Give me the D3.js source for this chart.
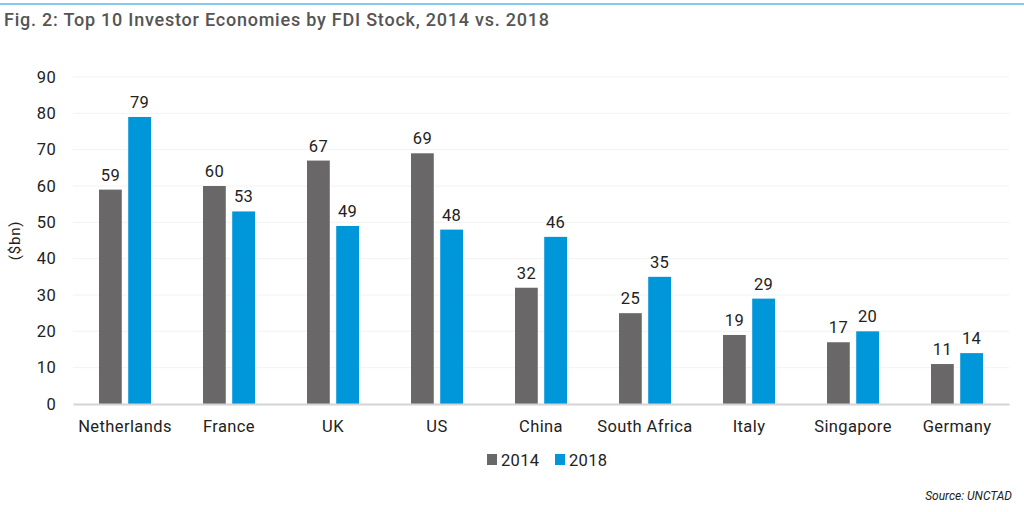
<!DOCTYPE html>
<html>
<head>
<meta charset="utf-8">
<script src="https://cdn.jsdelivr.net/npm/d3@7"></script>
<style>
  body { margin: 0; background: #fff; }
  text { font-family: Roboto, "Liberation Sans", sans-serif; }
</style>
</head>
<body>
<div id="chart"></div>
<script>
// data
var categories = ["Netherlands", "France", "UK", "US", "China", "South Africa", "Italy", "Singapore", "Germany"]
var values2014 = [59, 60, 67, 69, 32, 25, 19, 17, 11]
var values2018 = [79, 53, 49, 48, 46, 35, 29, 20, 14]
var seriesNames = ["2014", "2018"]
var yTicks = [0, 10, 20, 30, 40, 50, 60, 70, 80, 90]

var colors = { "2014": "#6a6768", "2018": "#0096da" }

var width = 1024, height = 512
var margin = { left: 73, right: 15, top: 77, bottom: 108 }
var labelFont = "16.5px"

var svg = d3.select("#chart").append("svg")
	.attr("width", width)
	.attr("height", height)

// top rule
svg.append("line")
	.attr("x1", 0).attr("x2", width)
	.attr("y1", 4).attr("y2", 4)
	.style("stroke", "#5cb9e8")
	.style("stroke-width", "1.5px")

svg.append("text")
	.attr("x", 4)
	.attr("y", 26)
	.text("Fig. 2: Top 10 Investor Economies by FDI Stock, 2014 vs. 2018")
	.style("font-size", "18px")
	.style("font-weight", "500")
	.style("fill", "#555")
	.attr("textLength", 545)

var x0 = d3.scaleBand()
	.domain(categories)
	.range([margin.left, width - margin.right])
	.paddingInner(0)
	.paddingOuter(0)

var x1 = d3.scaleBand()
	.domain(seriesNames)
	.range([26, 78])
	.paddingInner(0.22)

var y = d3.scaleLinear()
	.domain([0, 90])
	.range([height - margin.bottom, margin.top])

// faint gridlines
svg.append("g").selectAll("line")
	.data(yTicks.slice(1))
	.enter().append("line")
	.attr("x1", margin.left).attr("x2", width - margin.right)
	.attr("y1", function(d) { return y(d) }).attr("y2", function(d) { return y(d) })
	.style("stroke", "#f2f2f2")
	.style("stroke-width", "1px")

// y axis labels (no line)
var yAxis = svg.append("g")
	.attr("transform", "translate(" + (margin.left - 17) + ",0)")
	.call(d3.axisLeft(y).tickValues(yTicks).tickSize(0).tickPadding(0))
yAxis.select(".domain").remove()
yAxis.selectAll("text")
	.style("font-size", labelFont)
	.style("letter-spacing", "0.3px")
	.style("fill", "#222")
	.style("font-family", "Roboto, sans-serif")

svg.append("text")
	.attr("transform", "translate(20," + ((margin.top + height - margin.bottom) / 2) + ") rotate(-90)")
	.attr("text-anchor", "middle")
	.text("($bn)")
	.style("font-size", "15px")
	.style("letter-spacing", "0.8px")
	.style("fill", "#222")

var rows = categories.map(function(c, i) {
	return { cat: c, vals: [{ s: "2014", v: values2014[i] }, { s: "2018", v: values2018[i] }] }
})

var groups = svg.append("g").selectAll("g")
	.data(rows)
	.enter().append("g")
	.attr("transform", function(d) { return "translate(" + x0(d.cat) + ",0)" })

groups.selectAll("rect")
	.data(function(d) { return d.vals })
	.enter().append("rect")
	.attr("x", function(d) { return x1(d.s) })
	.attr("width", x1.bandwidth())
	.attr("y", function(d) { return y(d.v) })
	.attr("height", function(d) { return y(0) - y(d.v) })
	.style("fill", function(d) { return colors[d.s] })

groups.selectAll("text.val")
	.data(function(d) { return d.vals })
	.enter().append("text")
	.attr("class", "val")
	.attr("x", function(d) { return x1(d.s) + x1.bandwidth() / 2 })
	.attr("y", function(d) { return y(d.v) - 9 })
	.attr("text-anchor", "middle")
	.text(function(d) { return d.v })
	.style("font-size", labelFont)
	.style("letter-spacing", "0.3px")
	.style("fill", "#222")

// x axis
var xAxis = svg.append("g")
	.attr("transform", "translate(0," + y(0) + ")")
	.call(d3.axisBottom(x0).tickSize(0).tickPadding(16))
xAxis.select(".domain")
	.style("stroke", "#d4d4d4")
	.style("stroke-width", "2px")
xAxis.selectAll("text")
	.style("font-size", labelFont)
	.style("letter-spacing", "0.4px")
	.style("fill", "#222")
	.style("font-family", "Roboto, sans-serif")

// legend
var legend = svg.append("g").selectAll("g")
	.data(seriesNames)
	.enter().append("g")
	.attr("transform", function(d, i) { return "translate(" + (487 + i * 68) + ",454)" })
legend.append("rect")
	.attr("width", 10).attr("height", 11)
	.style("fill", function(d) { return colors[d] })
legend.append("text")
	.attr("x", 14).attr("y", 12)
	.text(function(d) { return d })
	.style("font-size", labelFont)
	.style("letter-spacing", "0.3px")
	.style("fill", "#222")

svg.append("text")
	.attr("x", 1012)
	.attr("y", 500)
	.attr("text-anchor", "end")
	.text("Source: UNCTAD")
	.style("font-size", "12px")
	.style("font-style", "italic")
	.style("fill", "#222")
</script>
</body>
</html>
